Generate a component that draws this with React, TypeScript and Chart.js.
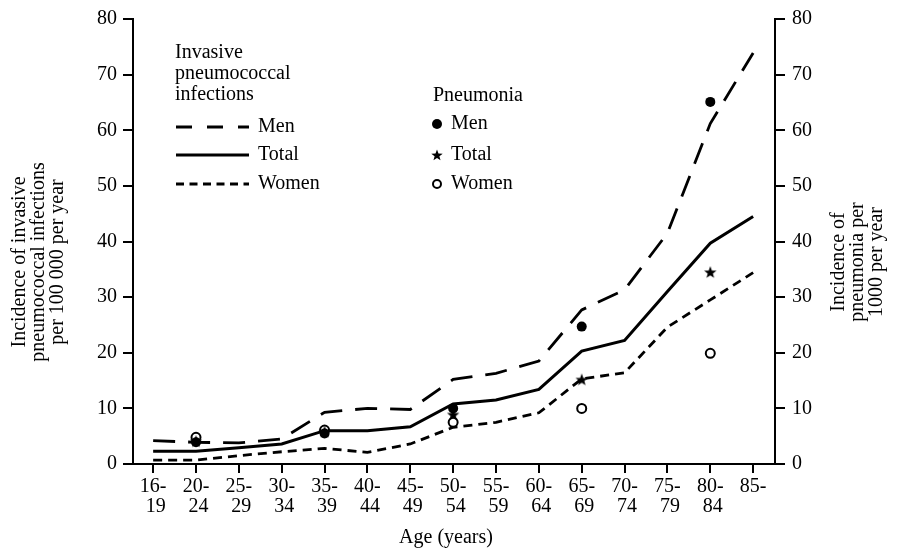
import React, { useEffect, useRef } from "react";
import { Chart, registerables } from "chart.js";

Chart.register(...registerables);

const ageGroups = ["16-19", "20-24", "25-29", "30-34", "35-39", "40-44", "45-49", "50-54", "55-59", "60-64", "65-69", "70-74", "75-79", "80-84", "85-"];
const invasiveMen = [4.2, 3.9, 3.8, 4.5, 9.3, 10.0, 9.8, 15.2, 16.3, 18.5, 27.7, 31.3, 41.5, 61.2, 73.9];
const invasiveTotal = [2.3, 2.3, 2.9, 3.6, 6.0, 6.0, 6.7, 10.8, 11.5, 13.4, 20.3, 22.2, 31.0, 39.7, 44.5];
const invasiveWomen = [0.7, 0.7, 1.5, 2.2, 2.8, 2.1, 3.6, 6.6, 7.5, 9.2, 15.3, 16.4, 24.6, 29.5, 34.4];

const pneumoniaGroups = ["20-24", "35-39", "50-54", "65-69", "80-84"];
const pneumoniaMen = [3.9, 5.5, 10.0, 24.7, 65.1];
const pneumoniaTotal = [4.1, 5.8, 8.9, 15.2, 34.5];
const pneumoniaWomen = [4.8, 6.1, 7.5, 10.0, 19.9];

const yTicks = [0, 10, 20, 30, 40, 50, 60, 70, 80];

const FONT = "'Liberation Serif', 'Times New Roman', serif";

function drawStar(ctx: CanvasRenderingContext2D, cx: number, cy: number, R: number) {
  const r = R * 0.42;
  ctx.beginPath();
  for (let i = 0; i < 10; i++) {
    const rad = i % 2 === 0 ? R : r;
    const a = -Math.PI / 2 + (i * Math.PI) / 5;
    const x = cx + rad * Math.cos(a);
    const y = cy + rad * Math.sin(a);
    if (i === 0) ctx.moveTo(x, y);
    else ctx.lineTo(x, y);
  }
  ctx.closePath();
  ctx.fillStyle = "#000";
  ctx.fill();
}

function makeStarCanvas(): HTMLCanvasElement {
  const c = document.createElement("canvas");
  c.width = 14;
  c.height = 14;
  const ctx = c.getContext("2d")!;
  drawStar(ctx, 7, 7.6, 6.5);
  return c;
}

const overlayPlugin = {
  id: "overlay",
  afterDraw(chart: any) {
    const ctx: CanvasRenderingContext2D = chart.ctx;
    ctx.save();
    ctx.fillStyle = "#000";
    ctx.strokeStyle = "#000";
    ctx.font = `20px ${FONT}`;
    ctx.textBaseline = "alphabetic";
    ctx.textAlign = "left";

    // Invasive legend
    ctx.fillText("Invasive", 175, 58);
    ctx.fillText("pneumococcal", 175, 79);
    ctx.fillText("infections", 175, 100);

    const rows = [
      { label: "Men", y: 127, dash: [16, 15], w: 2.8 },
      { label: "Total", y: 155, dash: [], w: 3 },
      { label: "Women", y: 184, dash: [8, 5.5], w: 2.8 },
    ];
    rows.forEach((r) => {
      ctx.beginPath();
      ctx.setLineDash(r.dash);
      ctx.lineWidth = r.w;
      ctx.moveTo(176, r.y);
      ctx.lineTo(249, r.y);
      ctx.stroke();
      ctx.setLineDash([]);
      ctx.textBaseline = "middle";
      ctx.fillText(r.label, 258, r.y);
      ctx.textBaseline = "alphabetic";
    });

    // Pneumonia legend
    ctx.fillText("Pneumonia", 433, 101);
    ctx.textBaseline = "middle";
    ctx.beginPath();
    ctx.arc(437, 124, 5, 0, Math.PI * 2);
    ctx.fill();
    ctx.fillText("Men", 451, 124);
    drawStar(ctx, 437, 155.5, 6);
    ctx.fillStyle = "#000";
    ctx.fillText("Total", 451, 155);
    ctx.beginPath();
    ctx.lineWidth = 2;
    ctx.arc(437, 184, 4, 0, Math.PI * 2);
    ctx.stroke();
    ctx.fillText("Women", 451, 184);

    // Axis titles
    ctx.textAlign = "center";
    ctx.fillText("Age (years)", 446, 538);

    const leftLines = ["Incidence of invasive", "pneumococcal infections", "per 100 000 per year"];
    ctx.save();
    ctx.translate(39, 262);
    ctx.rotate(-Math.PI / 2);
    leftLines.forEach((t, i) => ctx.fillText(t, 0, (i - 1) * 19));
    ctx.restore();

    const rightLines = ["Incidence of", "pneumonia per", "1000 per year"];
    ctx.save();
    ctx.translate(858, 262);
    ctx.rotate(-Math.PI / 2);
    rightLines.forEach((t, i) => ctx.fillText(t, 0, (i - 1) * 19));
    ctx.restore();

    ctx.restore();
  },
};

export default function App() {
  const ref = useRef<HTMLCanvasElement>(null);

  useEffect(() => {
    if (!ref.current) return;
    const star = makeStarCanvas();
    const idx = (g: string) => ageGroups.indexOf(g);
    const pts = (vals: number[]) => pneumoniaGroups.map((g, i) => ({ x: idx(g), y: vals[i] }));
    const line = (vals: number[]) => vals.map((v, i) => ({ x: i, y: v }));

    const chart = new Chart(ref.current, {
      type: "line",
      data: {
        datasets: [
          {
            label: "Pneumonia Men",
            data: pts(pneumoniaMen),
            yAxisID: "y2",
            showLine: false,
            pointStyle: "circle",
            pointRadius: 5,
            pointBackgroundColor: "#000",
            pointBorderColor: "#000",
            pointBorderWidth: 0,
          },
          {
            label: "Pneumonia Total",
            data: pts(pneumoniaTotal),
            yAxisID: "y2",
            showLine: false,
            pointStyle: star as any,
            pointRadius: 6,
          },
          {
            label: "Pneumonia Women",
            data: pts(pneumoniaWomen),
            yAxisID: "y2",
            showLine: false,
            pointStyle: "circle",
            pointRadius: 4.5,
            pointBackgroundColor: "#fff",
            pointBorderColor: "#000",
            pointBorderWidth: 2,
          },
          {
            label: "Men",
            data: line(invasiveMen),
            yAxisID: "y",
            borderColor: "#000",
            borderWidth: 2.8,
            borderDash: [22, 13],
            pointRadius: 0,
            tension: 0,
            fill: false,
          },
          {
            label: "Total",
            data: line(invasiveTotal),
            yAxisID: "y",
            borderColor: "#000",
            borderWidth: 3,
            pointRadius: 0,
            tension: 0,
            fill: false,
          },
          {
            label: "Women",
            data: line(invasiveWomen),
            yAxisID: "y",
            borderColor: "#000",
            borderWidth: 2.8,
            borderDash: [9, 6],
            pointRadius: 0,
            tension: 0,
            fill: false,
          },
        ],
      },
      options: {
        responsive: false,
        animation: false,
        events: [],
        layout: { padding: { top: 18, left: 0, right: 0, bottom: 0 } },
        plugins: { legend: { display: false }, tooltip: { enabled: false } },
        scales: {
          x: {
            type: "linear",
            position: "bottom",
            min: -0.47,
            max: 14.51,
            afterBuildTicks: (scale: any) => {
              scale.ticks = ageGroups.map((_, i) => ({ value: i }));
            },
            afterFit: (scale: any) => {
              scale.height = 86;
            },
            ticks: {
              autoSkip: false,
              maxRotation: 0,
              padding: 4,
              color: "#000",
              font: { family: FONT, size: 20, lineHeight: 1.0 },
              callback: (v: any) => {
                const g = ageGroups[Math.round(Number(v))];
                if (!g) return "";
                const [a, b] = g.split("-");
                return b ? [a + "-", " " + b] : [a + "-"];
              },
            },
            grid: { drawOnChartArea: false, drawTicks: true, tickLength: 9, color: "#000", lineWidth: 2 },
            border: { display: true, color: "#000", width: 2 },
          },
          y: {
            position: "left",
            min: 0,
            max: 80,
            afterBuildTicks: (scale: any) => {
              scale.ticks = yTicks.map((v) => ({ value: v }));
            },
            afterFit: (scale: any) => {
              scale.width = 133;
            },
            ticks: { color: "#000", padding: 6, font: { family: FONT, size: 20 } },
            grid: { drawOnChartArea: false, drawTicks: true, tickLength: 10, color: "#000", lineWidth: 2 },
            border: { display: true, color: "#000", width: 2 },
          },
          y2: {
            position: "right",
            min: 0,
            max: 80,
            afterBuildTicks: (scale: any) => {
              scale.ticks = yTicks.map((v) => ({ value: v }));
            },
            afterFit: (scale: any) => {
              scale.width = 123;
            },
            ticks: { color: "#000", padding: 7, font: { family: FONT, size: 20 } },
            grid: { drawOnChartArea: false, drawTicks: true, tickLength: 10, color: "#000", lineWidth: 2 },
            border: { display: true, color: "#000", width: 2 },
          },
        },
      },
      plugins: [overlayPlugin],
    });
    return () => chart.destroy();
  }, []);

  return (
    <div style={{ position: "fixed", left: 0, top: 0, width: 898, height: 550, background: "#fff" }}>
      <canvas ref={ref} width={898} height={550} style={{ width: 898, height: 550, display: "block" }} />
    </div>
  );
}
